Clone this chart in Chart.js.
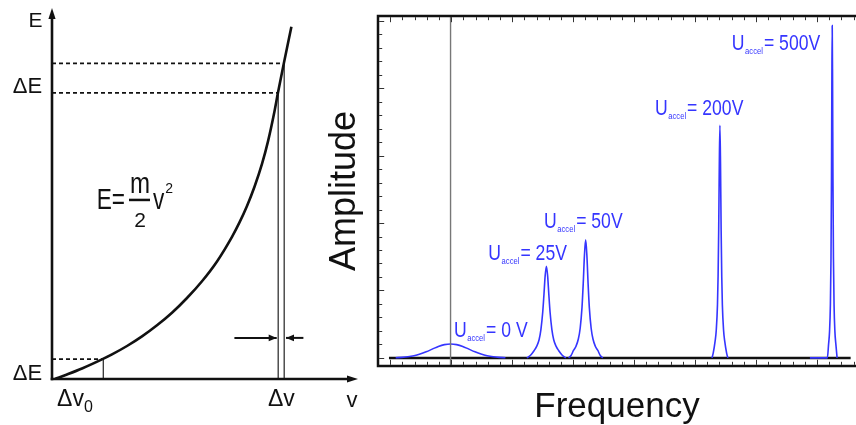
<!DOCTYPE html>
<html><head><meta charset="utf-8">
<script src="https://cdn.jsdelivr.net/npm/chart.js@4.4.1/dist/chart.umd.min.js"></script>
<style>
html,body{margin:0;padding:0;background:#fff;overflow:hidden;width:856px;height:425px;}
#left{position:absolute;left:0;top:0;}
#right{position:absolute;left:300px;top:0;}
</style></head><body>
<canvas id="left" width="370" height="425"></canvas>
<canvas id="right" width="556" height="425"></canvas>
<script>
// ================= DATA =================
// Left panel: kinetic energy curve E = m/2 v^2
const curveV = [0.10, 0.50, 1.00, 1.70, 2.00, 2.50, 3.00, 3.50, 4.00, 4.50, 5.00, 5.50, 6.00, 6.25, 6.50, 6.75, 7.00, 7.20, 7.40, 7.53, 7.73, 7.98];
const curveE = [0.00, 0.15, 0.35, 0.67, 0.82, 1.10, 1.42, 1.79, 2.21, 2.70, 3.26, 3.92, 4.74, 5.22, 5.77, 6.41, 7.17, 7.92, 8.84, 9.53, 10.53, 11.74];
// guide lines: energy level and velocity where they meet the curve
const guideE = [10.52, 9.54, 0.66];
const guideV = [7.74, 7.54, 1.71];
// the two small arrows marking Δv: [start v, tip v] at height arrowE
const arrowE = 1.37;
const arrowFrom = [6.08, 8.38];
const arrowTo = [7.49, 7.80];

// Right panel: amplitude spectra for several acceleration voltages
const peak0F   = [0.45, 0.95, 1.45, 1.95, 2.45, 2.95, 3.45, 3.95, 4.45, 4.95, 5.45, 5.95, 6.45, 6.95, 7.45, 7.95, 8.45, 8.95, 9.45];
const peak0A   = [0.003, 0.008, 0.017, 0.033, 0.058, 0.091, 0.130, 0.170, 0.197, 0.207, 0.197, 0.170, 0.130, 0.091, 0.058, 0.033, 0.017, 0.008, 0.003];
const peak25F  = [11.21, 11.51, 11.81, 12.01, 12.21, 12.36, 12.51, 12.61, 12.71, 12.81, 12.91, 13.01, 13.11, 13.26, 13.41, 13.61, 13.81, 14.11, 14.41];
const peak25A  = [0, 0.04, 0.11, 0.17, 0.27, 0.42, 0.68, 0.94, 1.22, 1.36, 1.22, 0.94, 0.68, 0.42, 0.27, 0.17, 0.11, 0.04, 0];
const peak50F  = [14.63, 14.83, 15.03, 15.23, 15.43, 15.58, 15.73, 15.83, 15.93, 16.03, 16.13, 16.23, 16.33, 16.48, 16.63, 16.83, 17.03, 17.23, 17.43];
const peak50A  = [0, 0.035, 0.11, 0.17, 0.28, 0.44, 0.75, 1.10, 1.52, 1.75, 1.52, 1.10, 0.75, 0.44, 0.28, 0.17, 0.11, 0.035, 0];
const peak200F = [26.39, 26.49, 26.64, 26.74, 26.84, 26.89, 26.94, 26.99, 27.04, 27.09, 27.14, 27.19, 27.24, 27.34, 27.44, 27.59, 27.69];
const peak200A = [0, 0.07, 0.24, 0.41, 0.79, 1.21, 1.90, 2.86, 3.45, 2.86, 1.90, 1.21, 0.79, 0.41, 0.24, 0.07, 0];
const peak500F = [34.42, 35.85, 35.95, 36.03, 36.10, 36.15, 36.19, 36.22, 36.25, 36.28, 36.31, 36.35, 36.40, 36.47, 36.55, 36.65];
const peak500A = [0, 0, 0.20, 0.39, 0.79, 1.48, 2.66, 4.04, 4.93, 4.04, 2.66, 1.48, 0.79, 0.39, 0.20, 0];
const baselineF = [-0.10, 37.76];
const markerF = 4.95;
const peakLabels = ['= 0 V', '= 25V', '= 50V', '= 200V', '= 500V'];
const peakLabelF = [5.23, 8.05, 12.62, 21.72, 28.02];
const peakLabelA = [0.316, 1.45, 1.92, 3.60, 4.56];

// ================= HELPERS =================
const pts = (xs, ys) => xs.map((x, i) => ({x, y: ys[i]}));
const FONT = 'Liberation Sans, Arial, sans-serif';
function txt(ctx, s, x, y, size, color, sx, align) {
  ctx.save();
  ctx.font = size + 'px ' + FONT;
  ctx.fillStyle = color;
  ctx.textBaseline = 'alphabetic';
  ctx.translate(x, y);
  ctx.scale(sx, 1);
  const w = ctx.measureText(s).width;
  const ox = align === 'center' ? -w / 2 : (align === 'right' ? -w : 0);
  ctx.fillText(s, ox, 0);
  ctx.restore();
  return w * sx;
}
function arrowHead(ctx, tx, ty, dx, dy, len, half, color) {
  const bx = tx - dx * len, by = ty - dy * len;
  ctx.save();
  ctx.fillStyle = color;
  ctx.beginPath();
  ctx.moveTo(tx, ty);
  ctx.lineTo(bx - dy * half, by + dx * half);
  ctx.lineTo(bx + dy * half, by - dx * half);
  ctx.closePath();
  ctx.fill();
  ctx.restore();
}

// ================= LEFT CHART =================
const leftDatasets = [
  {data: pts(curveV, curveE), borderColor: '#111', borderWidth: 2.6, cubicInterpolationMode: 'monotone', order: 0}
];
guideE.forEach((e, i) => {
  leftDatasets.push({data: [{x: 0, y: e}, {x: guideV[i], y: e}], borderColor: '#111', borderWidth: 1.8, borderDash: [4, 3], order: 2});
  leftDatasets.push({data: [{x: guideV[i], y: 0}, {x: guideV[i], y: e}], borderColor: '#333', borderWidth: 1.3, order: 2});
});
arrowFrom.forEach((v, i) => {
  leftDatasets.push({data: [{x: v, y: arrowE}, {x: arrowTo[i], y: arrowE}], borderColor: '#111', borderWidth: 2, order: 1});
});

const leftPlugin = {
  id: 'leftDeco',
  afterDatasetsDraw(chart) {
    const ctx = chart.ctx, xs = chart.scales.x, ys = chart.scales.y;
    const x0 = xs.getPixelForValue(0), y0 = ys.getPixelForValue(0);
    const yTip = ys.getPixelForValue(12.37), xTip = xs.getPixelForValue(10.2);
    ctx.save();
    ctx.strokeStyle = '#111'; ctx.lineWidth = 2.6; ctx.lineCap = 'butt';
    ctx.beginPath(); ctx.moveTo(x0, y0 + 1.3); ctx.lineTo(x0, yTip + 8); ctx.stroke();
    ctx.beginPath(); ctx.moveTo(x0 - 1.3, y0); ctx.lineTo(xTip - 8, y0); ctx.stroke();
    ctx.restore();
    arrowHead(ctx, x0, yTip, 0, -1, 11, 3.6, '#111');
    arrowHead(ctx, xTip, y0, 1, 0, 11, 3.6, '#111');
    arrowFrom.forEach((v, i) => {
      const dir = arrowTo[i] > v ? 1 : -1;
      arrowHead(ctx, xs.getPixelForValue(arrowTo[i]), ys.getPixelForValue(arrowE), dir, 0, 8, 3.4, '#111');
    });
    const c = '#111';
    txt(ctx, 'E', xs.getPixelForValue(-0.55), ys.getPixelForValue(11.73), 21, c, 1, 'center');
    txt(ctx, 'ΔE', xs.getPixelForValue(-0.82), ys.getPixelForValue(guideE[1]), 22, c, 1, 'center');
    txt(ctx, 'ΔE', xs.getPixelForValue(-0.82), ys.getPixelForValue(-0.03), 22, c, 1, 'center');
    const by = ys.getPixelForValue(-0.9);
    const wd = txt(ctx, 'Δv', xs.getPixelForValue(0.17), by, 23, c, 1, 'left');
    txt(ctx, '0', xs.getPixelForValue(0.17) + wd, by + 6, 16, c, 1, 'left');
    txt(ctx, 'Δv', xs.getPixelForValue(7.2), by, 23, c, 1, 'left');
    txt(ctx, 'v', xs.getPixelForValue(10.0), ys.getPixelForValue(-0.93), 22, c, 1, 'center');
    // formula E = m/2 v^2
    const fx = xs.getPixelForValue(1.49), fy = ys.getPixelForValue(5.66);
    txt(ctx, 'E=', fx, fy, 29, c, 0.78, 'left');
    ctx.save(); ctx.fillStyle = c; ctx.fillRect(fx + 32.3, fy - 10.5, 21, 2.5); ctx.restore();
    txt(ctx, 'm', fx + 43.3, fy - 16, 29, c, 0.83, 'center');
    txt(ctx, '2', fx + 43.3, fy + 17.4, 21, c, 1, 'center');
    const wv = txt(ctx, 'v', fx + 56.3, fy, 29, c, 0.78, 'left');
    txt(ctx, '2', fx + 56.3 + wv + 1, fy - 16, 14, c, 1, 'left');
  }
};

new Chart(document.getElementById('left'), {
  type: 'line',
  data: {datasets: leftDatasets},
  options: {
    responsive: false, animation: false, devicePixelRatio: 1,
    layout: {padding: {left: 52, right: 9, top: 7, bottom: 46}},
    elements: {point: {radius: 0}, line: {tension: 0}},
    plugins: {legend: {display: false}, tooltip: {enabled: false}},
    scales: {
      x: {type: 'linear', min: 0, max: 10.3, display: false},
      y: {type: 'linear', min: 0, max: 12.4, display: false}
    }
  },
  plugins: [leftPlugin]
});

// ================= RIGHT CHART =================
const BLUE = '#3535ff';
const peakSeries = [[peak0F, peak0A], [peak25F, peak25A], [peak50F, peak50A], [peak200F, peak200A], [peak500F, peak500A]];
const rightDatasets = [
  {data: pts(baselineF, [0, 0]), borderColor: '#111', borderWidth: 2.5, order: 5},
  {data: [{x: markerF, y: -0.12}, {x: markerF, y: 5.07}], borderColor: '#777', borderWidth: 1.4, order: 1}
];
peakSeries.forEach(([f, a]) => {
  rightDatasets.push({data: pts(f, a), borderColor: BLUE, borderWidth: 1.6, cubicInterpolationMode: 'monotone', order: 2});
});

const rightPlugin = {
  id: 'rightDeco',
  afterDatasetsDraw(chart) {
    const ctx = chart.ctx, xs = chart.scales.x, ys = chart.scales.y, ca = chart.chartArea;
    ctx.save();
    ctx.strokeStyle = '#333'; ctx.lineWidth = 1;
    for (let i = 0; i <= 38; i++) {
      const px = Math.round(xs.getPixelForValue(i)) + 0.5;
      const L = i % 5 === 0 ? 5 : 3;
      ctx.beginPath(); ctx.moveTo(px, ca.bottom - 1.2); ctx.lineTo(px, ca.bottom - 1.2 - L); ctx.stroke();
      ctx.beginPath(); ctx.moveTo(px, ca.top + 1.2); ctx.lineTo(px, ca.top + 1.2 + L); ctx.stroke();
    }
    for (let j = 0; j <= 25; j++) {
      const py = Math.round(ys.getPixelForValue(j * 0.2)) + 0.5;
      const L = j % 5 === 0 ? 5 : 3;
      ctx.beginPath(); ctx.moveTo(ca.left + 1.2, py); ctx.lineTo(ca.left + 1.2 + L, py); ctx.stroke();
    }
    ctx.strokeStyle = '#111'; ctx.lineWidth = 2.5;
    ctx.beginPath();
    ctx.moveTo(chart.width + 5, ca.top); ctx.lineTo(ca.left, ca.top); ctx.lineTo(ca.left, ca.bottom); ctx.lineTo(chart.width + 5, ca.bottom);
    ctx.stroke();
    ctx.restore();
    peakLabels.forEach((s, i) => {
      const x = xs.getPixelForValue(peakLabelF[i]), y = ys.getPixelForValue(peakLabelA[i]);
      const w1 = txt(ctx, 'U', x, y, 22, BLUE, 0.8, 'left');
      const w2 = txt(ctx, 'accel', x + w1 + 0.5, y + 4, 9, BLUE, 0.85, 'left');
      txt(ctx, s, x + w1 + w2 + 1.5, y, 22, BLUE, 0.8, 'left');
    });
    txt(ctx, 'Frequency', (ca.left + 856 - 300) / 2, 417, 35, '#111', 1, 'center');
    ctx.save();
    ctx.translate(ca.left - 23, (ca.top + ca.bottom) / 2);
    ctx.rotate(-Math.PI / 2);
    txt(ctx, 'Amplitude', 0, 0, 36, '#111', 1, 'center');
    ctx.restore();
  }
};

new Chart(document.getElementById('right'), {
  type: 'line',
  data: {datasets: rightDatasets},
  options: {
    responsive: false, animation: false, devicePixelRatio: 1,
    layout: {padding: {left: 78, right: 0, top: 16, bottom: 59}},
    elements: {point: {radius: 0}, line: {tension: 0}},
    plugins: {legend: {display: false}, tooltip: {enabled: false}},
    scales: {
      x: {type: 'linear', min: -1, max: 38.2, display: false},
      y: {type: 'linear', min: -0.12, max: 5.07, display: false}
    }
  },
  plugins: [rightPlugin]
});
</script>
</body></html>
